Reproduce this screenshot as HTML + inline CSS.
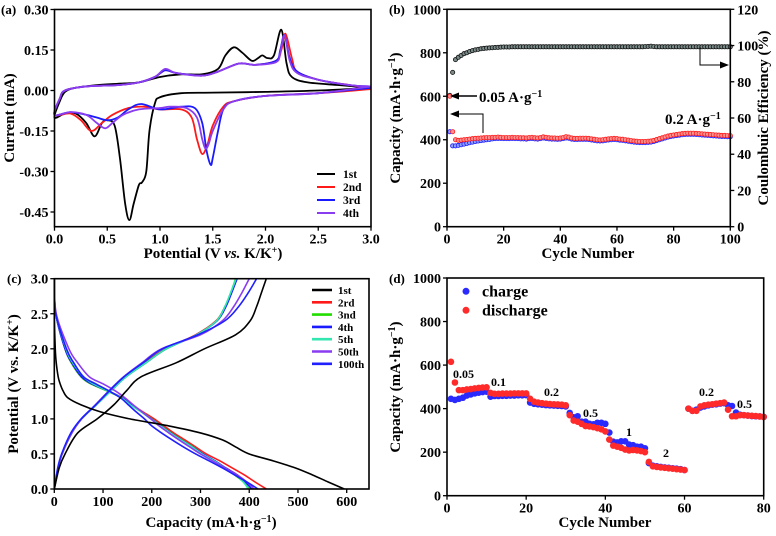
<!DOCTYPE html>
<html><head><meta charset="utf-8"><style>
html,body{margin:0;padding:0;background:#fff;}
svg{display:block;font-family:"Liberation Serif",serif;font-weight:bold;}
</style></head><body>
<svg id="fig" width="776" height="536" viewBox="0 0 776 536" xmlns="http://www.w3.org/2000/svg"></svg>
<script>
// ---------- Panel (a) CV data ----------
const cv1V=[3.0,2.5,2.0,1.5,1.2,1.0,0.95,0.9,0.87,0.83,0.8,0.75,0.71,0.67,0.62,0.57,0.5,0.45,0.38,0.3,0.2,0.1,0.0,0.05,0.1,0.2,0.4,0.6,0.8,1.0,1.2,1.4,1.55,1.62,1.7,1.78,1.87,1.93,1.97,2.02,2.08,2.15,2.2,2.25,2.4,2.7,3.0];
const cv1I=[0.01,0.0,-0.005,-0.008,-0.01,-0.025,-0.05,-0.15,-0.3,-0.34,-0.35,-0.42,-0.48,-0.42,-0.25,-0.13,-0.11,-0.12,-0.17,-0.12,-0.085,-0.085,-0.1,-0.04,-0.005,0.01,0.02,0.025,0.03,0.05,0.06,0.06,0.08,0.13,0.16,0.14,0.11,0.12,0.13,0.12,0.13,0.225,0.1,0.05,0.03,0.02,0.01];
const cv2V=[3.0,2.5,2.0,1.7,1.6,1.5,1.45,1.4,1.35,1.3,1.2,1.0,0.85,0.7,0.55,0.45,0.35,0.25,0.15,0.0,0.05,0.1,0.3,0.6,0.8,0.95,1.05,1.15,1.4,1.55,1.75,1.9,2.1,2.15,2.19,2.25,2.3,2.5,2.8,3.0];
const cv2I=[0.005,-0.01,-0.02,-0.04,-0.06,-0.13,-0.2,-0.235,-0.18,-0.1,-0.07,-0.07,-0.06,-0.065,-0.09,-0.12,-0.15,-0.11,-0.085,-0.09,-0.03,0.0,0.015,0.02,0.03,0.05,0.075,0.065,0.055,0.07,0.1,0.095,0.11,0.15,0.21,0.12,0.07,0.04,0.02,0.01];
const cv3V=[3.0,2.5,2.0,1.7,1.6,1.55,1.5,1.48,1.44,1.4,1.33,1.2,1.0,0.82,0.7,0.6,0.5,0.4,0.3,0.15,0.0,0.05,0.1,0.3,0.6,0.8,0.95,1.05,1.15,1.4,1.55,1.75,1.9,2.1,2.14,2.18,2.23,2.3,2.5,2.8,3.0];
const cv3I=[0.01,-0.01,-0.02,-0.04,-0.07,-0.15,-0.25,-0.275,-0.22,-0.12,-0.065,-0.06,-0.07,-0.05,-0.07,-0.1,-0.11,-0.1,-0.09,-0.08,-0.09,-0.03,0.0,0.015,0.02,0.03,0.05,0.075,0.065,0.055,0.07,0.1,0.095,0.11,0.15,0.205,0.12,0.07,0.04,0.02,0.015];
const cv4V=[3.0,2.5,2.0,1.7,1.6,1.5,1.46,1.43,1.4,1.35,1.25,1.1,1.0,0.8,0.65,0.55,0.48,0.4,0.3,0.15,0.0,0.05,0.1,0.3,0.6,0.8,0.95,1.05,1.15,1.4,1.55,1.75,1.9,2.1,2.14,2.18,2.23,2.3,2.5,2.8,3.0];
const cv4I=[0.015,-0.01,-0.02,-0.04,-0.07,-0.15,-0.2,-0.215,-0.18,-0.1,-0.065,-0.06,-0.065,-0.07,-0.09,-0.12,-0.14,-0.12,-0.09,-0.08,-0.09,-0.03,0.0,0.015,0.02,0.03,0.05,0.08,0.065,0.055,0.07,0.1,0.095,0.105,0.14,0.205,0.11,0.065,0.04,0.02,0.015];
const aXTicks=["0.0","0.5","1.0","1.5","2.0","2.5","3.0"];
const aYTicks=["0.30","0.15","0.00","-0.15","-0.30","-0.45"];

// ---------- Panel (b) cycling data ----------
const bDis=[600,437,400,397,398,400,401,403,405,406,407,408,409,410,410,411,411,412,411,410,410,410,411,410,410,409,409,408,410,411,409,408,410,413,411,409,408,408,407,408,410,414,412,408,406,406,407,407,407,406,404,402,400,399,400,402,404,405,406,405,403,402,400,398,396,394,393,392,392,392,393,394,397,401,405,409,413,417,420,422,424,426,428,429,430,430,430,429,428,427,426,425,424,423,422,421,420,420,419,419];
const bChg=[437,372,372,374,377,380,383,386,389,392,394,396,398,400,401,404,405,406,406,405,405,405,406,405,405,404,404,403,405,406,404,403,405,408,406,404,403,403,402,403,405,408,407,403,401,401,402,402,402,401,399,397,395,394,395,397,399,400,401,400,398,397,395,393,391,389,388,387,387,387,388,389,392,396,400,404,408,412,415,417,419,421,423,424,425,425,425,424,423,422,421,420,419,418,417,416,415,415,414,414];
const bCE=[72.5,85.2,92.2,93.5,94.5,95.5,96,96.7,97.2,97.6,97.9,98.2,98.4,98.6,98.7,98.8,98.9,99,99.1,99.2,99.2,99.2,99.3,99.3,99.3,99.3,99.3,99.3,99.3,99.3,99.3,99.3,99.3,99.3,99.3,99.3,99.3,99.3,99.3,99.3,99.3,99.3,99.3,99.3,99.3,99.3,99.3,99.3,99.3,99.3,99.3,99.3,99.3,99.3,99.3,99.3,99.3,99.3,99.3,99.3,99.3,99.3,99.3,99.3,99.3,99.3,99.3,99.3,99.3,99.4,99.5,99.6,99.4,99.3,99.3,99.3,99.3,99.3,99.3,99.3,99.3,99.3,99.3,99.3,99.3,99.3,99.3,99.3,99.3,99.3,99.3,99.3,99.3,99.3,99.3,99.3,99.3,99.3,99.3,99.3];
const bXTicks=["0","20","40","60","80","100"];
const bYTicks=["0","200","400","600","800","1000"];
const bY2Ticks=["0","20","40","60","80","100","120"];

// ---------- Panel (c) GCD data ----------
const vDis=[3.0,2.5,2.0,1.8,1.6,1.5,1.4,1.3,1.2,1.1,1.0,0.9,0.8,0.7,0.6,0.5,0.4,0.3,0.2,0.1,0.0];
const vChg=[0,0.3,0.5,0.8,1.0,1.2,1.4,1.6,1.8,2.0,2.2,2.4,2.6,2.8,3.0];
const cNames=["1st","2rd","3nd","4th","5th","50th","100th"];
const cDis1=[0,0,2,4,8,12,18,28,55,95,155,235,300,345,372,400,450,495,530,562,595];
const cChg1=[0,10,22,48,88,122,148,178,250,308,372,402,415,425,435];
const cDis2=[0,3,22,35,55,75,110,140,160,182,205,225,245,268,290,312,340,365,390,412,435];
const cChg2=[0,8,16,36,56,86,115,145,185,228,290,332,350,363,375];
const cDis3=[0,3,22,35,55,75,108,138,158,180,200,220,240,262,285,305,328,348,370,388,400];
const cChg3=[0,8,16,36,56,86,116,147,188,230,292,333,350,362,372];
const cDis4=[0,3,22,36,56,77,110,139,158,179,199,219,239,261,284,305,330,352,376,392,405];
const cChg4=[0,8,16,36,56,86,116,147,188,230,292,334,352,364,375];
const cDis5=[0,3,24,38,60,80,110,138,156,178,198,218,238,260,283,303,328,350,372,388,398];
const cChg5=[0,8,16,36,56,86,116,147,188,230,292,333,350,362,373];
const cDis50=[0,4,30,48,72,100,125,145,162,180,198,215,235,256,278,300,325,350,375,395,410];
const cChg50=[0,8,16,36,56,84,112,142,180,220,300,345,368,385,400];
const cDis100=[0,3,25,40,60,85,112,136,152,168,185,200,220,242,265,290,318,345,370,395,418];
const cChg100=[0,7,15,34,55,85,113,143,182,222,295,350,378,398,415];
const cXTicks=["0","100","200","300","400","500","600"];
const cYTicks=["0.0","0.5","1.0","1.5","2.0","2.5","3.0"];

// ---------- Panel (d) rate data ----------
const dChg=[445,440,445,450,460,465,470,473,476,478,455,458,458,459,459,460,460,461,461,462,428,422,420,418,416,415,414,413,412,410,380,360,365,340,340,330,328,335,335,330,290,248,245,250,250,235,232,225,225,218,150,138,135,132,130,128,126,124,122,118,400,390,395,405,410,415,418,420,423,425,415,412,382,372,370,368,366,365,364,362];
const dDis=[615,520,485,485,488,490,493,495,497,498,472,468,468,469,469,469,470,470,470,470,445,432,428,425,423,421,420,419,418,415,370,345,340,330,320,318,315,310,305,295,258,230,225,220,212,208,210,208,205,200,155,135,132,130,128,126,124,122,120,118,400,390,390,410,415,418,420,423,425,428,395,365,365,370,370,368,367,366,364,362];
const dXTicks=["0","20","40","60","80"];
const dYTicks=["0","200","400","600","800","1000"];

// ---------- helpers ----------
const NS="http://www.w3.org/2000/svg";
const svg=document.getElementById('fig');
function el(tag,attrs,parent,text){const e=document.createElementNS(NS,tag);for(const k in attrs)e.setAttribute(k,attrs[k]);if(text!==undefined)e.textContent=text;(parent||svg).appendChild(e);return e;}
function lin(d0,d1,r0,r1){return v=>r0+(v-d0)/(d1-d0)*(r1-r0);}
function smooth(p){if(!p.length)return'';let d='M'+p[0][0].toFixed(2)+','+p[0][1].toFixed(2);for(let i=0;i<p.length-1;i++){const p0=p[i-1]||p[i],p1=p[i],p2=p[i+1],p3=p[i+2]||p2;const c1x=p1[0]+(p2[0]-p0[0])/6,c1y=p1[1]+(p2[1]-p0[1])/6,c2x=p2[0]-(p3[0]-p1[0])/6,c2y=p2[1]-(p3[1]-p1[1])/6;d+='C'+c1x.toFixed(2)+','+c1y.toFixed(2)+' '+c2x.toFixed(2)+','+c2y.toFixed(2)+' '+p2[0].toFixed(2)+','+p2[1].toFixed(2);}return d;}
function frame(g,x0,y0,x1,y1,name){const r=el('rect',{x:x0,y:y0,width:x1-x0,height:y1-y0,fill:'none',stroke:'#000','stroke-width':1.6},g);}
function xTicks(g,labels,sx,y1){labels.forEach(t=>{const x=sx(parseFloat(t));el('line',{x1:x,y1:y1,x2:x,y2:y1+4,stroke:'#000','stroke-width':1.3},g);const tx=el('text',{x:x,y:y1+17,'text-anchor':'middle','font-size':14},g,t);});}
function yTicks(g,labels,sy,x0,side){labels.forEach(t=>{const y=sy(parseFloat(t));const dx=side==='right'?4:-4;el('line',{x1:x0,y1:y,x2:x0+dx,y2:y,stroke:'#000','stroke-width':1.3},g);const tx=el('text',{x:x0+(side==='right'?7:-6),y:y+5,'text-anchor':side==='right'?'start':'end','font-size':14},g,t);});}
function label(txt,x,y,name){const t=el('text',{x:x,y:y,'font-size':13},svg,txt);}
function arrowHead(g,x,y,dir){const s=dir==='left'?1:-1;el('polygon',{points:`${x},${y} ${x+s*9},${y-3.5} ${x+s*9},${y+3.5}`,fill:'#000'},g);}

// ---------- Panel (a) ----------
(function(){
const g=el('g',{});
const X0=54.5,X1=371,Y0=9.5,Y1=226.7;
const sx=lin(0,3,X0,X1), sy=lin(0.30,-0.45,9.5,212);
const series=[[cv1V,cv1I,'#000','1st'],[cv2V,cv2I,'#ff1a1a','2nd'],[cv3V,cv3I,'#1a1aff','3rd'],[cv4V,cv4I,'#8a3cf0','4th']];
series.forEach(s=>{const pts=s[0].map((v,i)=>[sx(v),sy(s[1][i])]);const p=el('path',{d:smooth(pts),fill:'none',stroke:s[2],'stroke-width':1.8},g);});
frame(g,X0,Y0,X1,Y1,'plot-frame-a');
xTicks(g,aXTicks,sx,Y1);yTicks(g,aYTicks,sy,X0,'left');
series.forEach((s,i)=>{const y=174+i*13;const lg=el('g',{},g);el('line',{x1:317,y1:y,x2:335,y2:y,stroke:s[2],'stroke-width':2},lg);el('text',{x:343,y:y+4,'font-size':11.5},lg,s[3]);});
const xt=el('text',{x:213,y:258,'text-anchor':'middle','font-size':15},g);
el('tspan',{},xt,'Potential (V ');el('tspan',{'font-style':'italic'},xt,'vs.');el('tspan',{},xt,' K/K');el('tspan',{'baseline-shift':'super','font-size':10},xt,'+');el('tspan',{},xt,')');
const yt=el('text',{x:0,y:0,'text-anchor':'middle','font-size':15,transform:'translate(14,118) rotate(-90)'},g,'Current (mA)');
})();
label('(a)',1,14,'panel-label-a');

// ---------- Panel (b) ----------
(function(){
const g=el('g',{});
const X0=447,X1=730.3,Y0=9.3,Y1=226.7;
const sx=lin(0,100,X0,X1), sy=lin(0,1000,Y1,Y0), sy2=lin(0,120,Y1,Y0);
bCE.forEach((v,i)=>{const c=el('circle',{cx:sx(i+1),cy:sy2(v),r:2.1,fill:'#7a8a88',stroke:'#111','stroke-width':0.8},g);});
bChg.forEach((v,i)=>{const c=el('circle',{cx:sx(i+1),cy:sy(v),r:2.1,fill:'#8fa0ff',stroke:'#1a1aff','stroke-width':0.8},g);});
bDis.forEach((v,i)=>{const c=el('circle',{cx:sx(i+1),cy:sy(v),r:2.1,fill:'#ff9090',stroke:'#ff1a1a','stroke-width':0.8},g);});
frame(g,X0,Y0,X1,Y1,'plot-frame-b');
xTicks(g,bXTicks,sx,Y1);yTicks(g,bYTicks,sy,X0,'left');yTicks(g,bY2Ticks,sy2,X1,'right');
// annotations
const a=el('g',{},g);
el('line',{x1:458,y1:96,x2:477,y2:96,stroke:'#000','stroke-width':1.4},a);arrowHead(a,450,96,'left');
el('polyline',{points:'483,133 483,114 458,114',fill:'none',stroke:'#000','stroke-width':1},a);arrowHead(a,450,114,'left');
el('polyline',{points:'700,47 700,65 720,65',fill:'none',stroke:'#000','stroke-width':1},a);arrowHead(a,729,65,'right');
const t1=el('text',{x:479,y:102,'font-size':15},g);el('tspan',{},t1,'0.05 A·g');el('tspan',{'baseline-shift':'super','font-size':10},t1,'−1');
const t2=el('text',{x:665,y:124,'font-size':15},g);el('tspan',{},t2,'0.2 A·g');el('tspan',{'baseline-shift':'super','font-size':10},t2,'−1');
const xt=el('text',{x:588,y:258,'text-anchor':'middle','font-size':15},g,'Cycle Number');
const yt=el('text',{x:0,y:0,'text-anchor':'middle','font-size':15,transform:'translate(400,118) rotate(-90)'},g);
el('tspan',{},yt,'Capacity (mA·h·g');el('tspan',{'baseline-shift':'super','font-size':10},yt,'−1');el('tspan',{},yt,')');
const y2=el('text',{x:0,y:0,'text-anchor':'middle','font-size':15,transform:'translate(768,118) rotate(-90)'},g,'Coulombuic Efficiency (%)');
})();
label('(b)',389,14,'panel-label-b');

// ---------- Panel (c) ----------
(function(){
const g=el('g',{});
const X0=54.3,X1=369,Y0=278.7,Y1=489;
const sx=lin(0,600,54.3,346.7), sy=lin(0,3,Y1,Y0);
const cols=['#000','#ff1a1a','#22dd00','#1a1aff','#33e6b0','#8a3cf0','#2020ff'];
const dis=[cDis1,cDis2,cDis3,cDis4,cDis5,cDis50,cDis100], chg=[cChg1,cChg2,cChg3,cChg4,cChg5,cChg50,cChg100];
const clip=el('clipPath',{id:'clipc'},g);el('rect',{x:X0,y:Y0,width:X1-X0,height:Y1-Y0},clip);
const cg=el('g',{'clip-path':'url(#clipc)'},g);
[1,2,3,4,5,6,0].forEach(k=>{
 const p1=el('path',{d:smooth(dis[k].map((c,i)=>[sx(c),sy(vDis[i])])),fill:'none',stroke:cols[k],'stroke-width':1.6},cg);
 const p2=el('path',{d:smooth(chg[k].map((c,i)=>[sx(c),sy(vChg[i])])),fill:'none',stroke:cols[k],'stroke-width':1.6},cg);
});
frame(g,X0,Y0,X1,Y1,'plot-frame-c');
xTicks(g,cXTicks,sx,Y1);yTicks(g,cYTicks,sy,X0,'left');
cNames.forEach((n,i)=>{const y=290+i*12.3;const lg=el('g',{},g);el('line',{x1:312,y1:y,x2:332,y2:y,stroke:cols[i],'stroke-width':2.6},lg);el('text',{x:338,y:y+4,'font-size':11},lg,n);});
const xt=el('text',{x:211,y:527,'text-anchor':'middle','font-size':15},g);
el('tspan',{},xt,'Capacity (mA·h·g');el('tspan',{'baseline-shift':'super','font-size':10},xt,'−1');el('tspan',{},xt,')');
const yt=el('text',{x:0,y:0,'text-anchor':'middle','font-size':15,transform:'translate(18,384) rotate(-90)'},g);
el('tspan',{},yt,'Potential (V vs. K/K');el('tspan',{'baseline-shift':'super','font-size':10},yt,'+');el('tspan',{},yt,')');
})();
label('(c)',7,283,'panel-label-c');

// ---------- Panel (d) ----------
(function(){
const g=el('g',{});
const X0=447,X1=763.7,Y0=278,Y1=495.7;
const sx=lin(0,80,X0,X1), sy=lin(0,1000,Y1,Y0);
dChg.forEach((v,i)=>{const c=el('circle',{cx:sx(i+1),cy:sy(v),r:3.3,fill:'#2a2aff'},g);});
dDis.forEach((v,i)=>{const c=el('circle',{cx:sx(i+1),cy:sy(v),r:3.3,fill:'#ff2a2a'},g);});
frame(g,X0,Y0,X1,Y1,'plot-frame-d');
xTicks(g,dXTicks,sx,Y1);yTicks(g,dYTicks,sy,X0,'left');
const rl=[['0.05',453,378],['0.1',491,386],['0.2',544,396],['0.5',583,417],['1',626,436],['2',663,457],['0.2',699,396],['0.5',737,408]];
rl.forEach(r=>{const t=el('text',{x:r[1],y:r[2],'font-size':12},g,r[0]);});
const l1=el('g',{},g);
el('circle',{cx:466,cy:291.3,r:3.5,fill:'#2a2aff'},l1);el('text',{x:482,y:296.5,'font-size':16},l1,'charge');
const l2=el('g',{},g);
el('circle',{cx:466,cy:310.3,r:3.5,fill:'#ff2a2a'},l2);el('text',{x:482,y:315.5,'font-size':16},l2,'discharge');
const xt=el('text',{x:605,y:527,'text-anchor':'middle','font-size':15},g,'Cycle Number');
const yt=el('text',{x:0,y:0,'text-anchor':'middle','font-size':15,transform:'translate(400,387) rotate(-90)'},g);
el('tspan',{},yt,'Capacity (mA·h·g');el('tspan',{'baseline-shift':'super','font-size':10},yt,'−1');el('tspan',{},yt,')');
})();
label('(d)',389,283,'panel-label-d');
</script>
</body></html>
